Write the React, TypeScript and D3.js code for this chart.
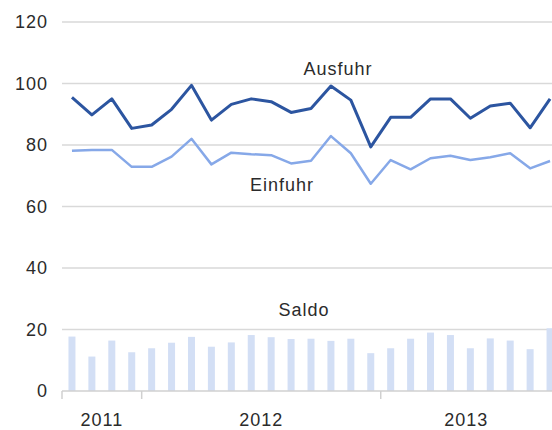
import * as d3 from "d3"
import { useRef, useEffect } from "react"

// Sep 2011 .. Sep 2013, monthly
const months = [
  "2011-09", "2011-10", "2011-11", "2011-12",
  "2012-01", "2012-02", "2012-03", "2012-04", "2012-05", "2012-06",
  "2012-07", "2012-08", "2012-09", "2012-10", "2012-11", "2012-12",
  "2013-01", "2013-02", "2013-03", "2013-04", "2013-05", "2013-06",
  "2013-07", "2013-08", "2013-09",
]
const ausfuhr = [
  95.5, 89.8, 95, 85.4, 86.5, 91.6, 99.4, 88.1, 93.2, 95, 94.1, 90.6, 91.9,
  99.2, 94.6, 79.4, 89, 89, 95, 95, 88.7, 92.7, 93.6, 85.6, 95,
]
const einfuhr = [
  78.1, 78.4, 78.4, 72.9, 72.9, 76.2, 82, 73.7, 77.5, 77, 76.7, 74, 74.9,
  82.9, 77.3, 67.4, 75.1, 72.1, 75.7, 76.5, 75.1, 76, 77.3, 72.4, 74.8,
]
const saldo = [
  17.7, 11.2, 16.4, 12.6, 13.9, 15.7, 17.6, 14.4, 15.8, 18.2, 17.5, 16.9, 17,
  16.3, 17, 12.3, 13.9, 17, 19, 18.2, 13.9, 17.1, 16.4, 13.6, 20.4,
]
const yTicks = [0, 20, 40, 60, 80, 100, 120]
const years = ["2011", "2012", "2013"]

const width = 552
const height = 430
const font = "'Liberation Sans', Arial, sans-serif"

export default function App() {
  const svgRef = useRef<SVGSVGElement>(null)

  useEffect(() => {
    if (!svgRef.current) return
    const svg = d3.select(svgRef.current)
    svg.selectAll("*").remove()

    const margin = { top: 22, left: 62, bottom: 39 }
    const step = 19.92

    const x = d3
      .scaleBand()
      .domain(months)
      .range([margin.left, margin.left + step * months.length])

    const y = d3
      .scaleLinear()
      .domain([0, 120])
      .range([height - margin.bottom, margin.top])

    const cx = (m: string) => (x(m) || 0) + x.bandwidth() / 2

    const textStyle = (sel: d3.Selection<any, any, any, any>) =>
      sel
        .style("font-family", font)
        .style("font-size", "18px")
        .style("letter-spacing", "1px")
        .style("fill", "#2b2b2b")

    // grid
    svg
      .append("g")
      .selectAll("line")
      .data(yTicks.filter((d) => d > 0))
      .enter()
      .append("line")
      .attr("x1", margin.left)
      .attr("x2", width)
      .attr("y1", (d) => y(d))
      .attr("y2", (d) => y(d))
      .attr("stroke", "#d9d9d9")
      .attr("stroke-width", 1.5)

    // y labels
    svg
      .append("g")
      .selectAll("text")
      .data(yTicks)
      .enter()
      .append("text")
      .attr("x", 48)
      .attr("y", (d) => y(d))
      .attr("dy", "0.35em")
      .attr("text-anchor", "end")
      .call(textStyle)
      .text((d) => d)

    // saldo bars
    const barW = 7
    svg
      .append("g")
      .selectAll("rect")
      .data(saldo)
      .enter()
      .append("rect")
      .attr("x", (_, i) => cx(months[i]) - barW / 2)
      .attr("width", barW)
      .attr("y", (d) => y(d))
      .attr("height", (d) => y(0) - y(d))
      .attr("fill", "#d3dff5")

    // x axis
    const baseY = y(0)
    svg
      .append("line")
      .attr("x1", margin.left)
      .attr("x2", width)
      .attr("y1", baseY)
      .attr("y2", baseY)
      .attr("stroke", "#d0d0d0")
      .attr("stroke-width", 1.5)

    const yearStart = years.map((yr) => x(months.find((m) => m.startsWith(yr)) || "") || 0)
    svg
      .append("g")
      .selectAll("line")
      .data(yearStart)
      .enter()
      .append("line")
      .attr("x1", (d) => d)
      .attr("x2", (d) => d)
      .attr("y1", baseY)
      .attr("y2", baseY + 8)
      .attr("stroke", "#d0d0d0")
      .attr("stroke-width", 1.5)

    svg
      .append("g")
      .selectAll("text")
      .data(years)
      .enter()
      .append("text")
      .attr("x", (_, i) => {
        const a = yearStart[i]
        const b = i < years.length - 1 ? yearStart[i + 1] : width
        return (a + b) / 2
      })
      .attr("y", 426)
      .attr("text-anchor", "middle")
      .call(textStyle)
      .text((d) => d)

    // lines
    const line = d3
      .line<number>()
      .x((_, i) => cx(months[i]))
      .y((d) => y(d))

    svg
      .append("path")
      .datum(einfuhr)
      .attr("fill", "none")
      .attr("stroke", "#86a8e8")
      .attr("stroke-width", 2.5)
      .attr("stroke-linejoin", "round")
      .attr("d", line)

    svg
      .append("path")
      .datum(ausfuhr)
      .attr("fill", "none")
      .attr("stroke", "#2c55a0")
      .attr("stroke-width", 3)
      .attr("stroke-linejoin", "round")
      .attr("d", line)

    // series labels
    const labels = [
      { t: "Ausfuhr", x: 338, y: 69 },
      { t: "Einfuhr", x: 282, y: 185 },
      { t: "Saldo", x: 304, y: 310 },
    ]
    svg
      .append("g")
      .selectAll("text")
      .data(labels)
      .enter()
      .append("text")
      .attr("x", (d) => d.x)
      .attr("y", (d) => d.y)
      .attr("dy", "0.35em")
      .attr("text-anchor", "middle")
      .call(textStyle)
      .text((d) => d.t)
  }, [])

  return (
    <div style={{ position: "fixed", left: 0, top: 0, background: "#fff" }}>
      <svg ref={svgRef} width={width} height={height} style={{ display: "block" }}></svg>
    </div>
  )
}
